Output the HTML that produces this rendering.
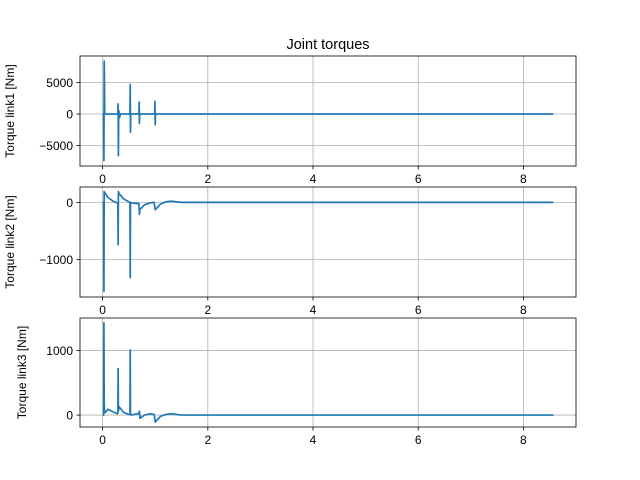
<!DOCTYPE html>
<html><head><meta charset="utf-8">
<style>
body{margin:0;background:#fff;}
svg{display:block;font-family:"Liberation Sans","DejaVu Sans",sans-serif;}
</style></head>
<body>
<svg id="chart" width="640" height="480" xmlns="http://www.w3.org/2000/svg">
<text x="328" y="49" text-anchor="middle" font-size="14.5">Joint torques</text>
</svg>
<script>
// Shared x data (time, s)
const xTicks = [0, 2, 4, 6, 8];
const time1 = [0,0.02,0.025,0.03,0.035,0.04,0.05,0.29,0.295,0.3,0.305,0.31,0.32,0.34,0.52,0.525,0.53,0.535,0.54,0.69,0.695,0.70,0.705,0.71,0.99,0.995,1.0,1.005,1.01,8.57];
const torque1 = [0,0,-7400,8400,5200,0,0,0,1600,-6600,0,500,-600,0,0,4700,-2900,0,0,0,1900,-1500,0,0,0,2000,-1700,0,0,0];
const yTicks1 = [-5000, 0, 5000];

const time2 = [0,0.02,0.025,0.03,0.04,0.1,0.2,0.28,0.29,0.295,0.3,0.31,0.4,0.5,0.52,0.525,0.53,0.55,0.65,0.69,0.70,0.71,0.8,0.9,0.98,1.0,1.02,1.1,1.2,1.3,1.5,8.57];
const torque2 = [0,0,-1560,190,170,90,20,-10,-10,-740,190,160,60,10,0,-1320,0,-10,-20,-20,-210,-120,-40,-10,0,-130,-110,-30,10,20,0,0];
const yTicks2 = [-1000, 0];

const time3 = [0,0.02,0.025,0.03,0.035,0.05,0.1,0.2,0.28,0.29,0.295,0.3,0.31,0.4,0.5,0.52,0.525,0.53,0.55,0.65,0.69,0.70,0.71,0.8,0.9,0.98,1.0,1.02,1.1,1.2,1.3,1.5,8.57];
const torque3 = [0,0,1430,200,60,40,90,50,20,30,720,60,130,40,10,10,1010,10,0,20,20,60,-50,0,20,10,-110,-90,-20,10,20,0,0];
const yTicks3 = [0, 1000];

const NS = "http://www.w3.org/2000/svg";
const svg = document.getElementById('chart');
const AX_L = 80, AX_R = 576, XMIN = -0.43, XMAX = 9.0;
function xs(t){ return AX_L + (t - XMIN) / (XMAX - XMIN) * (AX_R - AX_L); }
function mk(tag, attrs, parent){
  const e = document.createElementNS(NS, tag);
  for (const k in attrs) e.setAttribute(k, attrs[k]);
  (parent || svg).appendChild(e);
  return e;
}
function panel(idx, top, bottom, ymin, ymax, times, vals, yt, ylabel){
  const ys = v => bottom - (v - ymin) / (ymax - ymin) * (bottom - top);
  const g = mk('g', {});
  
  
  xTicks.forEach(t => {
    const x = xs(t);
    const gl = mk('line', {x1:x, x2:x, y1:top, y2:bottom, stroke:'#b0b0b0', 'stroke-width':0.8}, g);
    
    
    mk('line', {x1:x, x2:x, y1:bottom, y2:bottom+3.5, stroke:'#000', 'stroke-width':0.8}, g);
    const tx = mk('text', {x:x, y:bottom+17, 'text-anchor':'middle', 'font-size':12}, g);
    tx.textContent = t;
    
    
  });
  yt.forEach(v => {
    const y = ys(v);
    const gl = mk('line', {x1:AX_L, x2:AX_R, y1:y, y2:y, stroke:'#b0b0b0', 'stroke-width':0.8}, g);
    
    
    mk('line', {x1:AX_L-3.5, x2:AX_L, y1:y, y2:y, stroke:'#000', 'stroke-width':0.8}, g);
    const tx = mk('text', {x:AX_L-7, y:y+4.5, 'text-anchor':'end', 'font-size':12}, g);
    tx.textContent = v < 0 ? '\u2212' + Math.abs(v) : String(v);
    
    
  });
  const d = times.map((t,i) => (i ? 'L' : 'M') + xs(t).toFixed(2) + ' ' + ys(vals[i]).toFixed(2)).join(' ');
  const p = mk('path', {d:d, fill:'none', stroke:'#1f77b4', 'stroke-width':1.7, 'stroke-linejoin':'round'}, g);
  
  
  const r = mk('rect', {x:AX_L, y:top, width:AX_R-AX_L, height:bottom-top, fill:'none', stroke:'#000', 'stroke-width':0.8}, g);
  
  
  const cy = (top + bottom) / 2;
  const lx = idx === 3 ? 26 : 14;
  const yl = mk('text', {x:lx, y:cy, transform:'rotate(-90 ' + lx + ' ' + cy + ')', 'text-anchor':'middle', 'font-size':12}, g);
  yl.textContent = ylabel;
  
  
}
panel(1, 56, 166, -8250, 9200, time1, torque1, yTicks1, 'Torque link1 [Nm]');
panel(2, 187, 297, -1660, 270, time2, torque2, yTicks2, 'Torque link2 [Nm]');
panel(3, 318, 427, -185, 1505, time3, torque3, yTicks3, 'Torque link3 [Nm]');
</script>
</body></html>
